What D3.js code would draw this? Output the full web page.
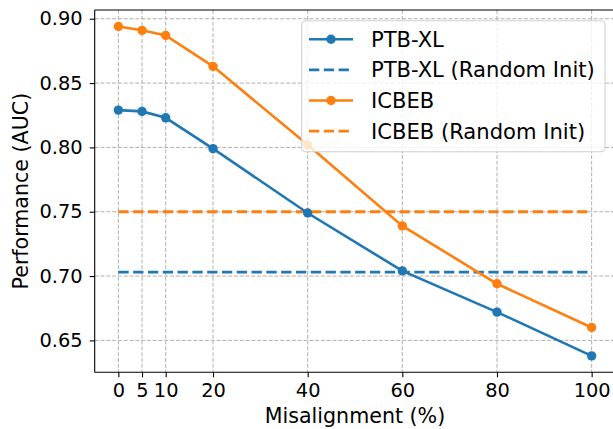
<!DOCTYPE html>
<html>
<head>
<meta charset="utf-8">
<script src="https://cdn.jsdelivr.net/npm/d3@7"></script>
<style>
  body { margin: 0; background: #fff; }
  svg { display: block; font-family: "DejaVu Sans", sans-serif; }
</style>
</head>
<body>
<svg id="chart" width="613" height="429"></svg>
<script>
// data
const misalignment = [0, 5, 10, 20, 40, 60, 80, 100];
const ptbxl = [0.829, 0.828, 0.823, 0.799, 0.749, 0.704, 0.672, 0.638];
const icbeb = [0.894, 0.891, 0.887, 0.863, 0.802, 0.739, 0.694, 0.660];
const ptbxlRandom = 0.703;
const icbebRandom = 0.750;
const xTicks = [0, 5, 10, 20, 40, 60, 80, 100];
const yTicks = [0.65, 0.7, 0.75, 0.8, 0.85, 0.9];
const legendLabels = ["PTB-XL", "PTB-XL (Random Init)", "ICBEB", "ICBEB (Random Init)"];

const blue = "#1f77b4";
const orange = "#ff7f0e";

function drawChart() {
  const svg = d3.select("#chart");

  // axes box (right edge falls just outside the picture)
  const left = 94.7, right = 615.3, top = 10, bottom = 372.3;

  const x = d3.scaleLinear().domain([-5, 105]).range([left, right]);
  const y = d3.scaleLinear().domain([0.6252, 0.9068]).range([bottom, top]);

  // grid
  const grid = svg.append("g")
    .attr("stroke", "#b0b0b0")
    .attr("stroke-width", 1)
    .attr("stroke-dasharray", "4,1.8");
  grid.selectAll(".vg").data(xTicks).join("line")
    .attr("x1", (d) => x(d)).attr("x2", (d) => x(d))
    .attr("y1", top).attr("y2", bottom);
  grid.selectAll(".hg").data(yTicks).join("line")
    .attr("x1", left).attr("x2", right)
    .attr("y1", (d) => y(d)).attr("y2", (d) => y(d));

  // x axis
  const xAxis = svg.append("g")
    .attr("transform", "translate(0," + bottom + ")")
    .call(d3.axisBottom(x).tickValues(xTicks).tickSize(5).tickPadding(6).tickFormat(d3.format("d")));
  xAxis.select(".domain").remove();
  xAxis.selectAll("text").attr("font-size", "19.4px").attr("fill", "#000");

  // y axis
  const yAxis = svg.append("g")
    .attr("transform", "translate(" + left + ",0)")
    .call(d3.axisLeft(y).tickValues(yTicks).tickSize(5).tickPadding(7).tickFormat(d3.format(".2f")));
  yAxis.select(".domain").remove();
  yAxis.selectAll("text").attr("font-size", "19.4px").attr("fill", "#000");
  svg.selectAll(".tick line").attr("stroke", "#000").attr("stroke-width", 1.1);
  svg.selectAll(".tick text").attr("font-family", "DejaVu Sans");

  // random init baselines
  const xr = d3.extent(misalignment);
  [[ptbxlRandom, blue], [icbebRandom, orange]].forEach(([v, c]) => {
    svg.append("line")
      .attr("x1", x(xr[0])).attr("x2", x(xr[1]))
      .attr("y1", y(v)).attr("y2", y(v))
      .attr("stroke", c)
      .attr("stroke-width", 2.8)
      .attr("stroke-dasharray", "10.3,4.5");
  });

  // the two curves
  const line = d3.line()
    .x((d) => x(d[0]))
    .y((d) => y(d[1]));

  [[ptbxl, blue], [icbeb, orange]].forEach(([vals, c]) => {
    const pts = misalignment.map((m, i) => [m, vals[i]]);
    svg.append("path")
      .datum(pts)
      .attr("fill", "none")
      .attr("stroke", c)
      .attr("stroke-width", 2.6)
      .attr("d", line);
    svg.append("g").selectAll("circle").data(pts).join("circle")
      .attr("cx", (d) => x(d[0]))
      .attr("cy", (d) => y(d[1]))
      .attr("r", 4.7)
      .attr("fill", c);
  });

  // spines
  svg.append("line").attr("x1", left).attr("x2", left).attr("y1", top).attr("y2", bottom)
    .attr("stroke", "#000").attr("stroke-width", 1.1);
  svg.append("line").attr("x1", left).attr("x2", right).attr("y1", bottom).attr("y2", bottom)
    .attr("stroke", "#000").attr("stroke-width", 1.1);
  svg.append("line").attr("x1", left).attr("x2", right).attr("y1", top).attr("y2", top)
    .attr("stroke", "#000").attr("stroke-width", 1.1);

  // axis labels
  svg.append("text")
    .attr("x", (left + right) / 2)
    .attr("y", 422.7)
    .attr("text-anchor", "middle")
    .attr("font-size", "20.6px")
    .text("Misalignment (%)");

  svg.append("text")
    .attr("transform", "translate(28.3," + (top + bottom) / 2 + ") rotate(-90)")
    .attr("text-anchor", "middle")
    .attr("font-size", "20.6px")
    .text("Performance (AUC)");

  // legend
  const lg = svg.append("g");
  lg.append("rect")
    .attr("x", 301.7).attr("y", 20.7)
    .attr("width", 303.3).attr("height", 131)
    .attr("rx", 4)
    .attr("fill", "#fff").attr("fill-opacity", 0.8)
    .attr("stroke", "#d0d0d0").attr("stroke-width", 1.1);

  const styles = [
    { c: blue, dash: null, marker: true },
    { c: blue, dash: "10.3,4.5", marker: false },
    { c: orange, dash: null, marker: true },
    { c: orange, dash: "10.3,4.5", marker: false }
  ];
  legendLabels.forEach((label, i) => {
    const cy = 39.3 + i * 30.6;
    const s = styles[i];
    lg.append("line")
      .attr("x1", 309).attr("x2", 353)
      .attr("y1", cy).attr("y2", cy)
      .attr("stroke", s.c)
      .attr("stroke-width", s.marker ? 2.6 : 2.8)
      .attr("stroke-dasharray", s.dash);
    if (s.marker) {
      lg.append("circle").attr("cx", 331).attr("cy", cy).attr("r", 4.7).attr("fill", s.c);
    }
    lg.append("text")
      .attr("x", 371)
      .attr("y", cy)
      .attr("dy", "0.36em")
      .attr("font-size", "21.1px")
      .text(label);
  });
}

drawChart();
</script>
</body>
</html>
